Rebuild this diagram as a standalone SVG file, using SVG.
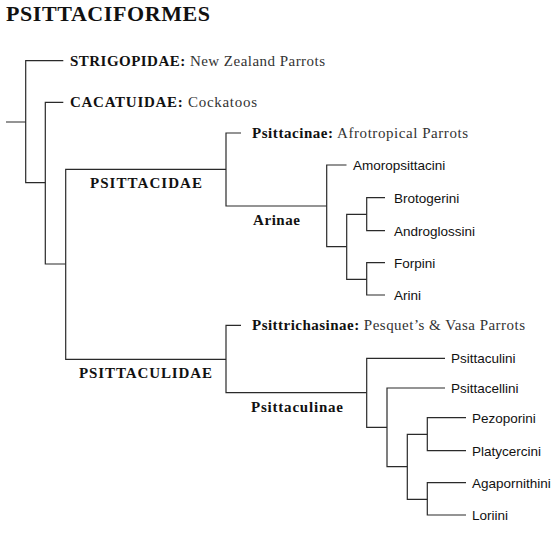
<svg xmlns="http://www.w3.org/2000/svg" width="560" height="533" viewBox="0 0 560 533">
<style>
.e{fill:none;stroke:#2a2a2a;stroke-width:1.2}
.s{font-family:"Liberation Serif",serif;font-size:15px;fill:#111}
.b{font-weight:bold}
.r{fill:#333}
.t{font-family:"Liberation Sans",Arial,sans-serif;font-size:13.5px;fill:#111}
</style>
<rect width="560" height="533" fill="#fff"/>
<text x="6" y="21" font-family="Liberation Serif,serif" font-weight="bold" font-size="22" fill="#111" textLength="204">PSITTACIFORMES</text>
<g id="connectors">
<path class="e" d="M6 122H25.7M63.3 60.7H25.7V182.7H45.3"/>
<path class="e" d="M63.3 102.3H45.3V264H65.7"/>
<path class="e" d="M226 169.3H65.7V359.3H226"/>
<path class="e" d="M241 133H226V206H326.7"/>
<path class="e" d="M346.5 165H326.7V246.7H346.7"/>
<path class="e" d="M366.7 214.3H346.7V279.3H366.7"/>
<path class="e" d="M385 197.7H366.7V230.7H385"/>
<path class="e" d="M385 262.7H366.7V295H385"/>
<path class="e" d="M241 325.3H226V392.7H366.7"/>
<path class="e" d="M445 358.3H366.7V427.3H387"/>
<path class="e" d="M445 388H387V466.7H407.3"/>
<path class="e" d="M427.3 434.3H407.3V499.3H427.3"/>
<path class="e" d="M466 417.7H427.3V450.7H466"/>
<path class="e" d="M466 482.7H427.3V515H466"/>
</g>
<g id="strigopidae"><text class="s" x="70" y="65.8" textLength="255"><tspan class="b">STRIGOPIDAE:</tspan> <tspan class="r">New Zealand Parrots</tspan></text></g>
<g id="cacatuidae"><text class="s" x="70" y="107.4" textLength="187"><tspan class="b">CACATUIDAE:</tspan> <tspan class="r">Cockatoos</tspan></text></g>
<g id="psittacidae"><text class="s b" x="90" y="187.8" textLength="112">PSITTACIDAE</text></g>
<g id="psittacinae"><text class="s" x="252" y="138.1" textLength="216"><tspan class="b">Psittacinae:</tspan> <tspan class="r">Afrotropical Parrots</tspan></text></g>
<g id="arinae"><text class="s b" x="253" y="225.2" textLength="47">Arinae</text></g>
<g id="amoropsittacini"><text class="t" x="353" y="170">Amoropsittacini</text></g>
<g id="brotogerini"><text class="t" x="394" y="202.7">Brotogerini</text></g>
<g id="androglossini"><text class="t" x="394" y="235.7">Androglossini</text></g>
<g id="forpini"><text class="t" x="394" y="267.7">Forpini</text></g>
<g id="arini"><text class="t" x="394" y="300">Arini</text></g>
<g id="psittaculidae"><text class="s b" x="79" y="377.8" textLength="133">PSITTACULIDAE</text></g>
<g id="psittrichasinae"><text class="s" x="252" y="330.4" textLength="273"><tspan class="b">Psittrichasinae:</tspan> <tspan class="r">Pesquet’s &amp; Vasa Parrots</tspan></text></g>
<g id="psittaculinae"><text class="s b" x="251" y="411.8" textLength="92">Psittaculinae</text></g>
<g id="psittaculini"><text class="t" x="451" y="363.3">Psittaculini</text></g>
<g id="psittacellini"><text class="t" x="451" y="393">Psittacellini</text></g>
<g id="pezoporini"><text class="t" x="472" y="422.7">Pezoporini</text></g>
<g id="platycercini"><text class="t" x="472" y="455.7">Platycercini</text></g>
<g id="agapornithini"><text class="t" x="472" y="487.7">Agapornithini</text></g>
<g id="loriini"><text class="t" x="472" y="520">Loriini</text></g>
</svg>
